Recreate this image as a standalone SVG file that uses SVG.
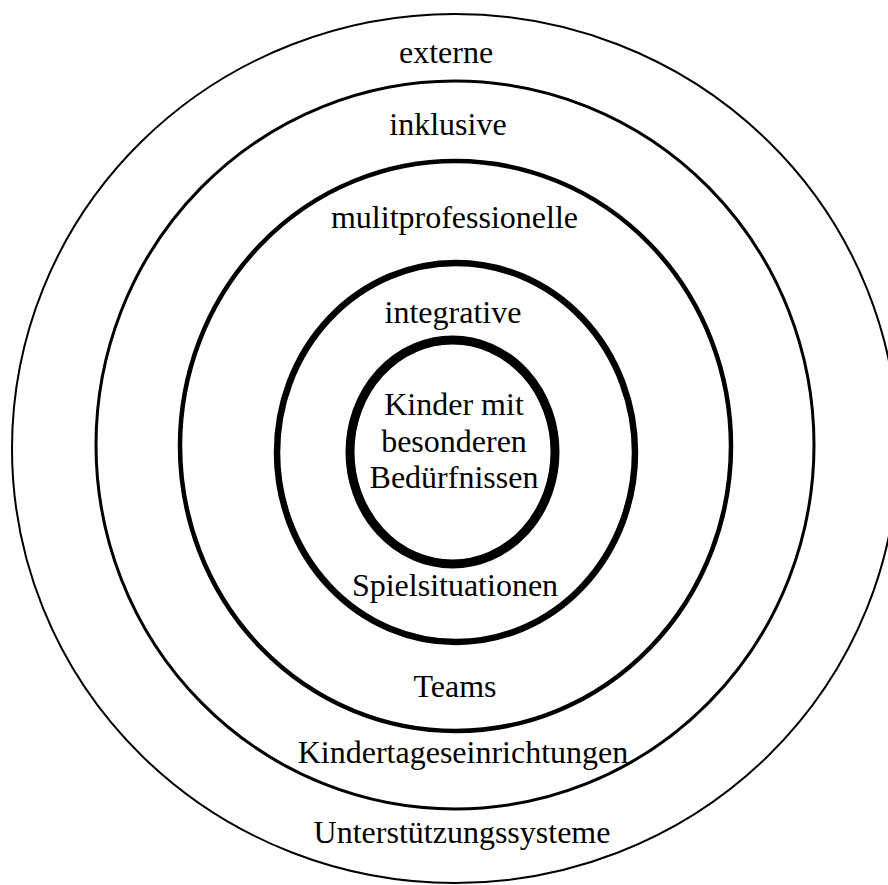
<svg xmlns="http://www.w3.org/2000/svg" width="888" height="885" viewBox="0 0 888 885">
<style>
.ring{fill:none;stroke:#000}
text{font-family:"Liberation Serif","Times New Roman",serif;font-size:32px;fill:#000;text-anchor:middle}
</style>
<rect width="888" height="885" fill="#fff"/>
<g id="ring-extern">
<ellipse class="ring" cx="455" cy="448.5" rx="443" ry="434.5" stroke-width="2"/>
<text x="446" y="63">externe</text>
<text x="462" y="843">Unterstützungssysteme</text>
</g>
<g id="ring-inklusiv">
<ellipse class="ring" cx="455" cy="445" rx="359" ry="364" stroke-width="3"/>
<text x="448" y="135">inklusive</text>
<text x="463" y="763">Kindertageseinrichtungen</text>
</g>
<g id="ring-multi">
<ellipse class="ring" cx="455.5" cy="446" rx="275.5" ry="285" stroke-width="4.5"/>
<text x="454.5" y="228">mulitprofessionelle</text>
<text x="455" y="697">Teams</text>
</g>
<g id="ring-integrativ">
<ellipse class="ring" cx="456" cy="452.5" rx="179" ry="189.5" stroke-width="6.5"/>
<text x="453" y="323">integrative</text>
<text x="455" y="596">Spielsituationen</text>
</g>
<g id="core">
<ellipse class="ring" cx="452.5" cy="452" rx="102.5" ry="112" stroke-width="9"/>
<text x="454" y="415">Kinder mit</text>
<text x="454" y="452">besonderen</text>
<text x="454" y="488">Bedürfnissen</text>
</g>
</svg>
